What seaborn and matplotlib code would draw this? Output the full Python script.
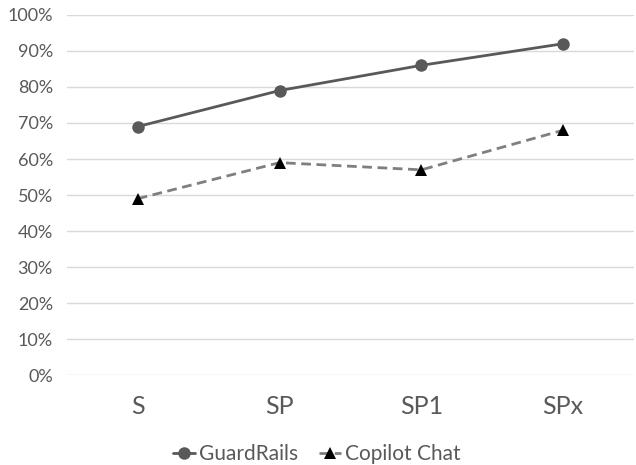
import numpy as np
import pandas as pd
import matplotlib
matplotlib.use("Agg")
import matplotlib.pyplot as plt
import seaborn as sns
from matplotlib.ticker import PercentFormatter

categories = ["S", "SP", "SP1", "SPx"]
guardrails = [69, 79, 86, 92]
copilot_chat = [49, 59, 57, 68]

sns.set_style("white")
plt.rcParams["font.family"] = ["Lato", "DejaVu Sans"]

TEXT = "#595959"

fig = plt.figure(figsize=(6.36, 4.65), dpi=100)
ax = fig.add_axes([0.105, 0.193, 0.892, 0.775])

sns.lineplot(x=categories, y=guardrails, ax=ax, color="#595959", lw=2,
             marker="o", markersize=9, markeredgewidth=0, label="GuardRails", sort=False)
sns.lineplot(x=categories, y=copilot_chat, ax=ax, color="#7f7f7f", lw=2,
             linestyle=(0, (3.5, 2)), marker="^", markersize=9,
             markerfacecolor="black", markeredgecolor="black", markeredgewidth=0,
             label="Copilot Chat", sort=False)

ax.set_xlim(-0.5, 3.5)
ax.set_ylim(0, 100)
ax.set_yticks(np.arange(0, 101, 10))
ax.yaxis.set_major_formatter(PercentFormatter(decimals=0))
ax.grid(axis="y", color="#d9d9d9", lw=1)
ax.set_axisbelow(True)
for s in ax.spines.values():
    s.set_visible(False)
ax.tick_params(axis="y", labelsize=13, colors=TEXT, length=0, pad=10)
ax.tick_params(axis="x", labelsize=18, colors=TEXT, length=0, pad=14)

leg = ax.legend(loc="upper center", bbox_to_anchor=(0.44, -0.14), ncol=2, frameon=False,
                fontsize=15, handlelength=1.1, handletextpad=0.15, columnspacing=1.0)
for t in leg.get_texts():
    t.set_color(TEXT)

fig.savefig("out.png", dpi=100)
